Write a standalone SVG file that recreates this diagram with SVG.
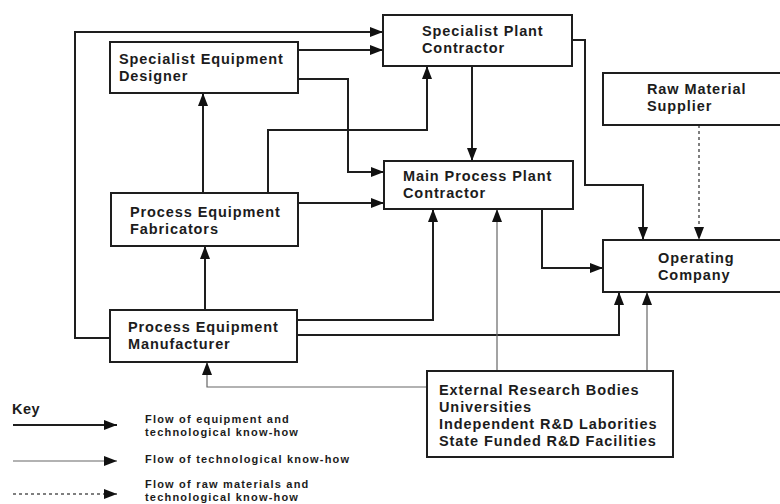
<svg xmlns="http://www.w3.org/2000/svg" width="780" height="504" viewBox="0 0 780 504">
<style>
.box{fill:#fff;stroke:#1e1e1e;stroke-width:2}
.t{font-family:"Liberation Sans",Arial,sans-serif;font-weight:bold;font-size:14.5px;letter-spacing:0.9px;fill:#1c1c1c}
.k{font-family:"Liberation Sans",Arial,sans-serif;font-weight:bold;font-size:11px;letter-spacing:1.2px;fill:#1c1c1c}
.eq{fill:none;stroke:#1e1e1e;stroke-width:2;marker-end:url(#ah)}
.tk{fill:none;stroke:#666;stroke-width:1.2;marker-end:url(#ah)}
.rm{fill:none;stroke:#555;stroke-width:1.5;stroke-dasharray:3 3;marker-end:url(#ah)}
</style>
<defs>
<marker id="ah" markerUnits="userSpaceOnUse" markerWidth="13" markerHeight="10" refX="13" refY="5" orient="auto">
<path d="M0,0 L13,5 L0,10 z" fill="#111"/>
</marker>
</defs>
<rect width="780" height="504" fill="#fff"/>
<g id="connectors">
<path class="eq" d="M110,338 H75 V32 H383"/>
<path class="eq" d="M298,50 H383"/>
<path class="eq" d="M298,79 H348 V172 H384"/>
<path class="eq" d="M268,193 V130 H427 V66"/>
<path class="eq" d="M298,203 H384"/>
<path class="eq" d="M203,193 V93"/>
<path class="eq" d="M205,310 V246"/>
<path class="eq" d="M472,66 V161"/>
<path class="eq" d="M572,40 H585 V185 H643 V240"/>
<path class="rm" d="M699,125 V240"/>
<path class="eq" d="M542,209 V268 H603"/>
<path class="eq" d="M297,320 H433 V209"/>
<path class="eq" d="M297,335 H619 V292"/>
<path class="tk" d="M497,370 V209"/>
<path class="tk" d="M647,370 V292"/>
<path class="tk" d="M427,387 H207 V362"/>
</g>
<g id="specialist-equipment-designer">
<rect class="box" x="110" y="42" width="188" height="51"/>
<text class="t" x="119" y="64">Specialist Equipment</text>
<text class="t" x="119" y="81">Designer</text>
</g>
<g id="specialist-plant-contractor">
<rect class="box" x="383" y="15" width="189" height="51"/>
<text class="t" x="422" y="36">Specialist Plant</text>
<text class="t" x="422" y="53">Contractor</text>
</g>
<g id="raw-material-supplier">
<rect class="box" x="603" y="73" width="190" height="52"/>
<text class="t" x="647" y="94">Raw Material</text>
<text class="t" x="647" y="111">Supplier</text>
</g>
<g id="main-process-plant-contractor">
<rect class="box" x="384" y="161" width="189" height="48"/>
<text class="t" x="403" y="181">Main Process Plant</text>
<text class="t" x="403" y="198">Contractor</text>
</g>
<g id="operating-company">
<rect class="box" x="603" y="240" width="190" height="52"/>
<text class="t" x="658" y="263">Operating</text>
<text class="t" x="658" y="280">Company</text>
</g>
<g id="process-equipment-fabricators">
<rect class="box" x="111" y="193" width="187" height="53"/>
<text class="t" x="130" y="217">Process Equipment</text>
<text class="t" x="130" y="234">Fabricators</text>
</g>
<g id="process-equipment-manufacturer">
<rect class="box" x="110" y="310" width="187" height="52"/>
<text class="t" x="128" y="332">Process Equipment</text>
<text class="t" x="128" y="349">Manufacturer</text>
</g>
<g id="external-research-bodies">
<rect class="box" x="427" y="371" width="246" height="86"/>
<text class="t" x="439" y="395">External Research Bodies</text>
<text class="t" x="439" y="412">Universities</text>
<text class="t" x="439" y="429">Independent R&amp;D Laborities</text>
<text class="t" x="439" y="446">State Funded R&amp;D Facilities</text>
</g>
<g id="key">
<text class="t" x="12" y="414" style="letter-spacing:0.5px">Key</text>
<path class="eq" d="M13,425 H117"/>
<path class="tk" d="M13,461 H117"/>
<path class="rm" d="M13,494 H117"/>
<text class="k" x="145" y="423">Flow of equipment and</text>
<text class="k" x="145" y="436">technological know-how</text>
<text class="k" x="145" y="463">Flow of technological know-how</text>
<text class="k" x="145" y="488">Flow of raw materials and</text>
<text class="k" x="145" y="501">technological know-how</text>
</g>
</svg>
